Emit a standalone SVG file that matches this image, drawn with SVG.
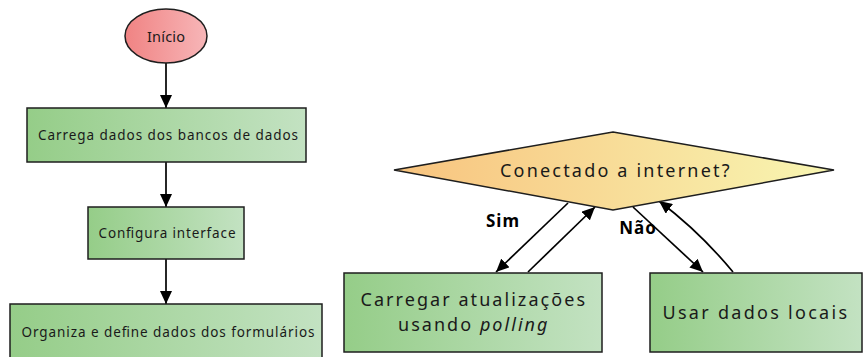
<svg xmlns="http://www.w3.org/2000/svg" width="864" height="357" viewBox="0 0 864 357">
<defs>
<linearGradient id="gGreen" x1="0" y1="0" x2="1" y2="0">
<stop offset="0" stop-color="#95cd88"/>
<stop offset="1" stop-color="#c3e2c2"/>
</linearGradient>
<linearGradient id="gRed" x1="0" y1="0" x2="1" y2="0">
<stop offset="0" stop-color="#f08383"/>
<stop offset="1" stop-color="#f7b6b8"/>
</linearGradient>
<linearGradient id="gYellow" x1="0" y1="0" x2="1" y2="0">
<stop offset="0" stop-color="#f8c37e"/>
<stop offset="1" stop-color="#f8f6b2"/>
</linearGradient>
<marker id="arr" viewBox="0 0 13 12" refX="13" refY="6" markerWidth="13" markerHeight="12" markerUnits="userSpaceOnUse" orient="auto">
<path d="M0,0 L13,6 L0,12 Z" fill="#000"/>
</marker>
</defs>
<style>
.box{fill:url(#gGreen);stroke:#1e1e1e;stroke-width:1.5}
.t{font-family:"Noto Sans","Open Sans","DejaVu Sans",sans-serif;fill:#1a1a1a;text-anchor:middle;dominant-baseline:central}
.s{font-size:13.5px}
.l{font-size:18px;letter-spacing:0.5px}
.lab{font-family:"Noto Sans","DejaVu Sans",sans-serif;font-weight:bold;font-size:17px;letter-spacing:1px;fill:#000;text-anchor:middle;dominant-baseline:central}
.c{fill:none;stroke:#000;stroke-width:1.7;marker-end:url(#arr)}
</style>
<rect width="864" height="357" fill="#fff"/>
<g id="connectors">
<line class="c" x1="166" y1="63" x2="166" y2="108"/>
<line class="c" x1="166" y1="162" x2="166" y2="207"/>
<line class="c" x1="166" y1="259" x2="166" y2="304"/>
<line class="c" x1="568" y1="203" x2="496" y2="272"/>
<line class="c" x1="528" y1="272" x2="595" y2="207"/>
<line class="c" x1="633" y1="207" x2="703" y2="272"/>
<path class="c" d="M733,272 Q700,232 659,201"/>
</g>
<g id="inicio">
<ellipse cx="166" cy="36" rx="41" ry="27" fill="url(#gRed)" stroke="#1e1e1e" stroke-width="1.5"/>
<text class="t" x="166" y="36" font-size="14.5" textLength="38" lengthAdjust="spacing">Início</text>
</g>
<g id="carrega">
<rect class="box" x="27" y="108" width="279" height="54"/>
<text class="t s" x="168" y="135" textLength="260" lengthAdjust="spacing">Carrega dados dos bancos de dados</text>
</g>
<g id="configura">
<rect class="box" x="88" y="207" width="156" height="52"/>
<text class="t s" x="167" y="233" textLength="137" lengthAdjust="spacing">Configura interface</text>
</g>
<g id="organiza">
<rect class="box" x="10" y="304" width="312" height="60"/>
<text class="t s" x="168" y="332" textLength="293" lengthAdjust="spacing">Organiza e define dados dos formulários</text>
</g>
<g id="conectado">
<polygon points="613,132 834,170 613,210 394,170" fill="url(#gYellow)" stroke="#1e1e1e" stroke-width="1.5"/>
<text class="t l" x="615" y="170" font-size="19" textLength="230" lengthAdjust="spacing">Conectado a internet?</text>
</g>
<g id="atualizacoes">
<rect class="box" x="344" y="273" width="258" height="79"/>
<text class="t l" x="473" y="299" textLength="225" lengthAdjust="spacing">Carregar atualizações</text>
<text class="t l" x="473" y="324" textLength="150" lengthAdjust="spacing">usando <tspan font-style="italic">polling</tspan></text>
</g>
<g id="locais">
<rect class="box" x="650" y="273" width="212" height="79"/>
<text class="t l" x="755" y="312" textLength="185" lengthAdjust="spacing">Usar dados locais</text>
</g>
<g id="labels">
<text class="lab" x="503" y="220">Sim</text>
<text class="lab" x="638" y="227">Não</text>
</g>
</svg>
